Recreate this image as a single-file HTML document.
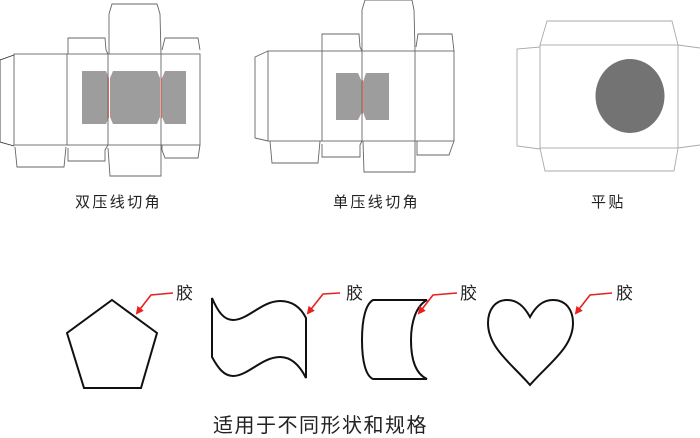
<!DOCTYPE html>
<html><head><meta charset="utf-8"><style>
html,body{margin:0;padding:0;background:#fff;width:700px;height:438px;overflow:hidden}
svg{display:block}
text{font-family:"Liberation Sans","Noto Sans CJK SC",sans-serif}
</style></head><body>
<svg width="700" height="438" viewBox="0 0 700 438" xmlns="http://www.w3.org/2000/svg">
<defs><marker id="ah" markerWidth="8" markerHeight="8" refX="6" refY="4" orient="auto" markerUnits="userSpaceOnUse"><path d="M0,0 L8,4 L0,8 z" fill="#e82020"/></marker></defs>
<!-- Box 1 -->
<g fill="none" stroke="#666" stroke-width="0.9">
<path d="M82,71 H106 L109,78 V117 L106,124 H82 Z M113,71 H157 L160,78 V117 L157,124 H113 L110,117 V78 Z M165,71 H186 V124 H165 L162,117 V78 Z" fill="#9c9d9c" stroke="none"/>
<rect x="14" y="54" width="186" height="91"/>
<line x1="67" y1="54" x2="67" y2="145"/><line x1="108" y1="54" x2="108" y2="145"/><line x1="161" y1="54" x2="161" y2="145"/>
<path d="M14,55 L0,60 V142 L14,146" stroke="#333"/>
<path d="M68,54 V38 H105 L106,50 L108,54"/>
<path d="M109,54 V14 L112,4 H157 L160,14 L161,54"/>
<path d="M162,50 L165,38 H198 L200,50"/>
<path d="M15,147 L17,167 H64 L66,147"/>
<path d="M68,148 V161 H105 V150 L108,145"/>
<path d="M108,148 L110,176 H161 V145"/>
<path d="M162,145 V150 L165,158 H198 L200,145"/>
<line x1="108.5" y1="78" x2="108.5" y2="118" stroke="#e06050"/><line x1="161.5" y1="78" x2="161.5" y2="118" stroke="#e06050"/>
</g>
<!-- Box 2 -->
<g fill="none" stroke="#666" stroke-width="0.9">
<path d="M336,73 H358 L362,82 V112 L358,120 H336 Z M366,73 H389 V120 H366 L363,112 V82 Z" fill="#9c9d9c" stroke="none"/>
<rect x="268" y="51" width="186" height="90"/>
<line x1="322" y1="51" x2="322" y2="141"/><line x1="362" y1="51" x2="362" y2="141"/><line x1="415" y1="51" x2="415" y2="141"/>
<path d="M268,51 L255,57 V138 L268,141"/>
<path d="M322,51 V34 H359 L360,47 L362,51"/>
<path d="M362,51 V10 L365,0 H412 L414,10 L415,51"/>
<path d="M416,47 L418,34 H452 L454,51"/>
<path d="M270,141 L272,163 H318 L320,141"/>
<path d="M322,144 V157 H360 V145 L362,141"/>
<path d="M363,141 L364,172 H415 V141"/>
<path d="M417,141 V155 H449 L454,141"/>
<line x1="362.5" y1="80" x2="362.5" y2="114" stroke="#e06050"/>
</g>
<!-- Box 3 -->
<g fill="none" stroke="#aaa" stroke-width="0.9">
<rect x="540" y="45" width="138" height="103"/>
<path d="M540,45 L547,21 H672 L678,45"/>
<path d="M540,148 L545,171 H674 L678,148"/>
<path d="M540,47 L517,49 V146 L540,149"/>
<path d="M678,45 L700,48 M700,145 L678,148"/>
</g>
<ellipse cx="630" cy="96" rx="34.5" ry="37" fill="#727372"/>
<g font-size="15" fill="#222" letter-spacing="2.4">
<text x="75" y="207">双压线切角</text>
<text x="333" y="207">单压线切角</text>
<text x="591" y="207">平贴</text>
</g>
<!-- shapes -->
<g fill="none" stroke="#111" stroke-width="2">
<polygon points="112,300 157,333 141,388 84,388 67,333"/>
<path d="M212,298 C218,312 224,320 233,320 C248,320 262,301 280,301 C293,301 301,308 306,318 V378 C301,368 293,357 280,357 C262,357 248,376 233,376 C224,376 218,368 212,357 Z"/>
<path d="M373,300 H427 C416,306 411,322 411,340 C411,360 416,374 427,379 H373 C366,376 362,362 362,340 C362,318 366,304 373,300 Z"/>
<path d="M530,317 C524,306 517,300 507,300 C495,300 488,310 488,323 C488,348 512,364 530,385 C548,364 573,348 573,323 C573,310 566,300 553,300 C543,300 536,306 530,317 Z"/>
</g>
<g fill="none" stroke="#e82020" stroke-width="1.6">
<path d="M173,293 L151,295 L137,313" marker-end="url(#ah)"/>
<path d="M340,293 L323,294 L308,313" marker-end="url(#ah)"/>
<path d="M457,293 L433,295 L419,313" marker-end="url(#ah)"/>
<path d="M612,293 L590,295 L576,313" marker-end="url(#ah)"/>
</g>
<g font-size="17" fill="#222">
<text x="176" y="299">胶</text>
<text x="346" y="299">胶</text>
<text x="460" y="299">胶</text>
<text x="616" y="299">胶</text>
</g>
<text x="213" y="432" font-size="20" fill="#222" letter-spacing="1.5">适用于不同形状和规格</text>
</svg>
</body></html>
